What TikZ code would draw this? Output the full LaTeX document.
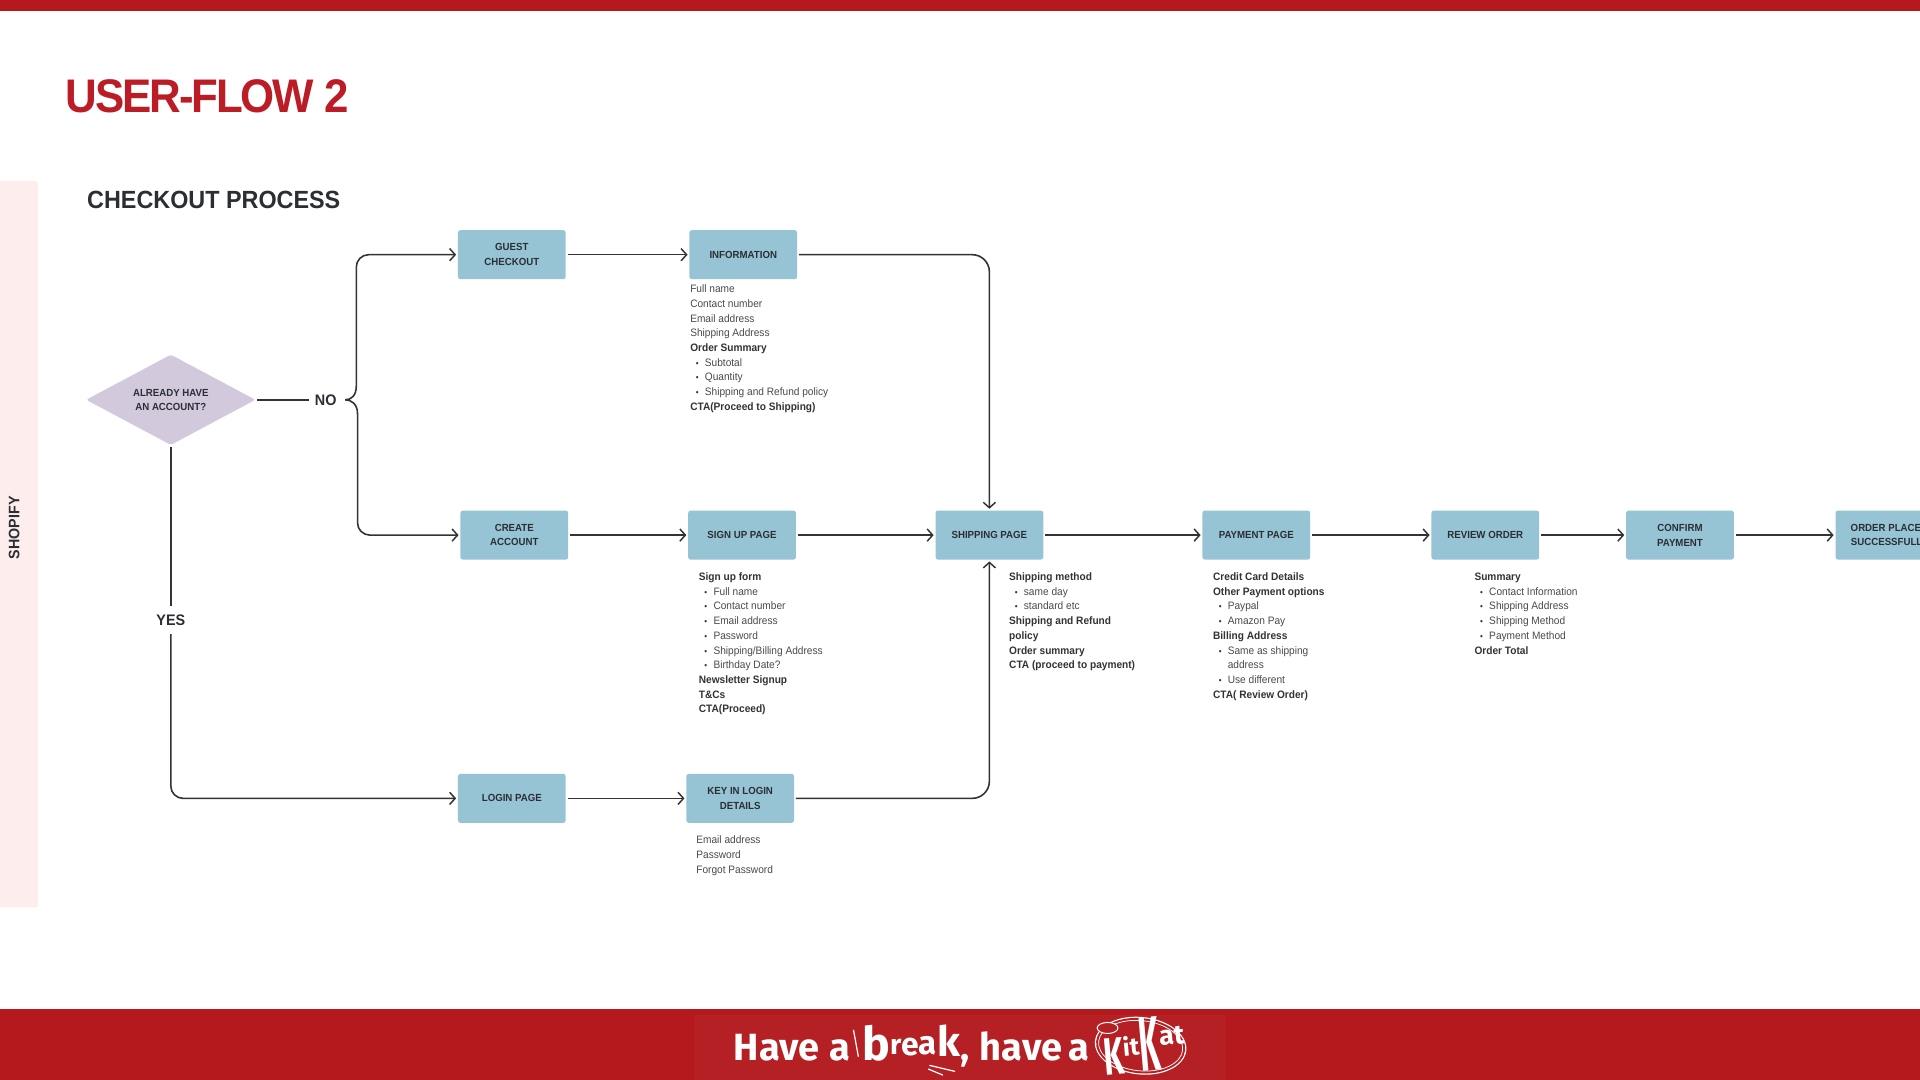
\documentclass[tikz,border=0pt]{standalone}
\usepackage{fontspec}
\setmainfont{Liberation Sans}[FakeStretch=0.94]
\newfontfamily\logofont{Fira Sans}
\newfontfamily\titlefont{Liberation Sans}[FakeStretch=0.93,LetterSpace=-4.5]
\usetikzlibrary{arrows.meta,shapes.geometric}
\definecolor{brandred}{HTML}{B5191D}
\definecolor{bannerred}{HTML}{B52025}
\definecolor{titlered}{HTML}{BC1C26}
\definecolor{panelpink}{HTML}{FDEDED}
\definecolor{boxblue}{HTML}{96C4D5}
\definecolor{dialilac}{HTML}{D2C9DC}
\definecolor{inkdark}{HTML}{2B2F33}
\definecolor{inkline}{HTML}{333333}
\definecolor{inktext}{HTML}{474A4D}
\newcommand{\pl}[1]{\strut\textcolor{inktext}{#1}}
\newcommand{\bo}[1]{\strut\textcolor{inkline}{\bfseries #1}}
\newcommand{\bl}[1]{\strut\hspace*{4.6pt}\makebox[7.4pt][l]{\textcolor{inkline}{\fontsize{7}{7}\selectfont •}}\textcolor{inktext}{#1}}
\tikzset{
  x=1pt,y=-1pt,
  flowbox/.style={fill=boxblue,rounded corners=2pt,minimum width=88pt,minimum height=40pt,inner sep=0pt,outer sep=1.5pt,align=center,text=inkdark,font=\fontsize{8.4}{12}\selectfont\bfseries},
  decision/.style={diamond,fill=dialilac,rounded corners=2pt,minimum width=139pt,minimum height=74.5pt,aspect=1.88,inner sep=0pt,outer sep=1pt,align=center,text=inkdark,font=\fontsize{8.4}{11.5}\selectfont\bfseries},
  flow/.style={draw=inkline,line width=1.3pt,-{Straight Barb[length=4.5pt,width=10pt,line width=1.2pt]}},
  plainflow/.style={draw=inkline,line width=1.3pt},
  branch/.style={inner sep=0pt,outer sep=0pt,text=inkdark,font=\fontsize{12.5}{14}\selectfont\bfseries},
  notes/.style={anchor=north west,inner sep=0pt,align=left,font=\fontsize{8.8}{12}\selectfont},
  logotext/.style={inner sep=0pt,text=white,font=\logofont\bfseries\fontsize{31}{31}\selectfont}
}
\begin{document}
\begin{tikzpicture}
\clip (0,0) rectangle (1568,882);
\fill[white] (0,0) rectangle (1568,882);
% bars and panel
\fill[brandred] (0,0) rectangle (1568,8.7);
\fill[brandred] (0,824) rectangle (1568,882);
\fill[bannerred] (567,829) rectangle (1001,882);
\fill[panelpink,rounded corners=2pt] (-6,148) rectangle (31,741);
% titles
\node[anchor=base west,inner sep=0pt,text=titlered] (title) at (53.5,91.5) {\titlefont\bfseries\fontsize{38.5}{40}\selectfont USER-FLOW 2};
\node[anchor=base west,inner sep=0pt,text=inkdark] (sub) at (71,170) {\fontsize{20.3}{22}\selectfont\bfseries CHECKOUT PROCESS};
\node[rotate=90,inner sep=0pt,text=inkdark] (shopify) at (11.5,431) {\fontsize{12.4}{13}\selectfont\bfseries SHOPIFY};
% nodes
\node[decision] (dia) at (139.5,326.5) {ALREADY HAVE\\AN ACCOUNT?};
\node[flowbox] (guest) at (418,208) {GUEST\\CHECKOUT};
\node[flowbox] (info) at (607,208) {INFORMATION};
\node[flowbox] (create) at (420,437) {CREATE\\ACCOUNT};
\node[flowbox] (signup) at (606,437) {SIGN UP PAGE};
\node[flowbox] (ship) at (808,437) {SHIPPING PAGE};
\node[flowbox] (pay) at (1026,437) {PAYMENT PAGE};
\node[flowbox] (review) at (1213,437) {REVIEW ORDER};
\node[flowbox] (confirm) at (1372,437) {CONFIRM\\PAYMENT};
\node[flowbox] (placed) at (1543,437) {ORDER PLACED\\SUCCESSFULLY};
\node[flowbox] (login) at (418,652) {LOGIN PAGE};
\node[flowbox] (keyin) at (604.5,652) {KEY IN LOGIN\\DETAILS};
\node[branch,outer sep=4.5pt] (no) at (266,326.5) {NO};
\node[branch,outer sep=7pt] (yes) at (139.5,506.5) {YES};
\coordinate (bracetip) at (282,326.5);
% connectors
\draw[plainflow] (dia.east) -- (no.west);
\draw[plainflow] (dia.south) -- (yes.north);
\draw[flow,rounded corners=10pt] (yes.south) |- (login.west);
\draw[flow] (bracetip) .. controls (287,326.5) and (291,323) .. (291,315) [rounded corners=10pt] |- (guest.west);
\draw[flow] (bracetip) .. controls (287,326.5) and (292,330) .. (292,338) [rounded corners=10pt] |- (create.west);
\draw[flow] (guest) -- (info);
\draw[flow] (create) -- (signup);
\draw[flow] (signup) -- (ship);
\draw[flow] (ship) -- (pay);
\draw[flow] (pay) -- (review);
\draw[flow] (review) -- (confirm);
\draw[flow] (confirm) -- (placed);
\draw[flow] (login) -- (keyin);
\draw[flow,rounded corners=14pt] (info.east) -| (ship.north);
\draw[flow,rounded corners=14pt] (keyin.east) -| (ship.south);
% notes
\node[notes] (infonotes) at (563.5,230.5) {\pl{Full name}\\\pl{Contact number}\\\pl{Email address}\\\pl{Shipping Address}\\\bo{Order Summary}\\\bl{Subtotal}\\\bl{Quantity}\\\bl{Shipping and Refund policy}\\\bo{CTA(Proceed to Shipping)}};
\node[notes] (signnotes) at (570.5,465.5) {\bo{Sign up form}\\\bl{Full name}\\\bl{Contact number}\\\bl{Email address}\\\bl{Password}\\\bl{Shipping/Billing Address}\\\bl{Birthday Date?}\\\bo{Newsletter Signup}\\\bo{T\&Cs}\\\bo{CTA(Proceed)}};
\node[notes] (shipnotes) at (824,465.5) {\bo{Shipping method}\\\bl{same day}\\\bl{standard etc}\\\bo{Shipping and Refund}\\\bo{policy}\\\bo{Order summary}\\\bo{CTA (proceed to payment)}};
\node[notes] (paynotes) at (990.5,465.5) {\bo{Credit Card Details}\\\bo{Other Payment options}\\\bl{Paypal}\\\bl{Amazon Pay}\\\bo{Billing Address}\\\bl{Same as shipping}\\\strut\hspace*{12pt}\textcolor{inktext}{address}\\\bl{Use different}\\\bo{CTA( Review Order)}};
\node[notes] (revnotes) at (1204,465.5) {\bo{Summary}\\\bl{Contact Information}\\\bl{Shipping Address}\\\bl{Shipping Method}\\\bl{Payment Method}\\\bo{Order Total}};
\node[notes] (lognotes) at (568.5,680.5) {\pl{Email address}\\\pl{Password}\\\pl{Forgot Password}};
% footer slogan
\node[logotext,anchor=base west] (have) at (599,866) {Have\hspace{1pt} a};
\node[logotext,anchor=base west] (brk) at (704,866) {{\fontsize{38}{38}\selectfont b}\raisebox{5pt}{\fontsize{23}{23}\selectfont r}\raisebox{4pt}{\fontsize{26}{26}\selectfont e}\raisebox{5pt}{\fontsize{27}{27}\selectfont a}\raisebox{3pt}{\fontsize{34}{34}\selectfont k},};
\node[logotext,anchor=base west] (have2) at (800,866) {have\hspace{-2pt} a};
\draw[white,line width=1pt] (697,841) -- (701,863);
\draw[white,line width=1pt] (759,870) -- (780,875);
\draw[white,line width=1pt] (758,873) -- (770,878);
\fill[white,rotate around={-6:(931.5,854)}] (931.5,854) ellipse (37.5 and 23.5);
\fill[bannerred,rotate around={-6:(931.5,854)}] (931.5,854) ellipse (36.5 and 22.5);
\draw[white,line width=.6pt,rotate around={-6:(931.5,854)}] (931.5,854) ellipse (34.5 and 20.5);
\node[inner sep=0pt,text=white,rotate=5,anchor=base] (kitkat) at (936,875) {\logofont\bfseries\scalebox{.6}[1]{\fontsize{43}{43}\selectfont K}\raisebox{14pt}{\fontsize{20}{20}\selectfont it}\scalebox{.42}[1]{\fontsize{63}{63}\selectfont K}\raisebox{20pt}{\fontsize{22}{22}\selectfont at}};
\draw[white,line width=.8pt,fill=bannerred] (904.5,839.5) ellipse (8.5 and 4.5);
\end{tikzpicture}
\end{document}
